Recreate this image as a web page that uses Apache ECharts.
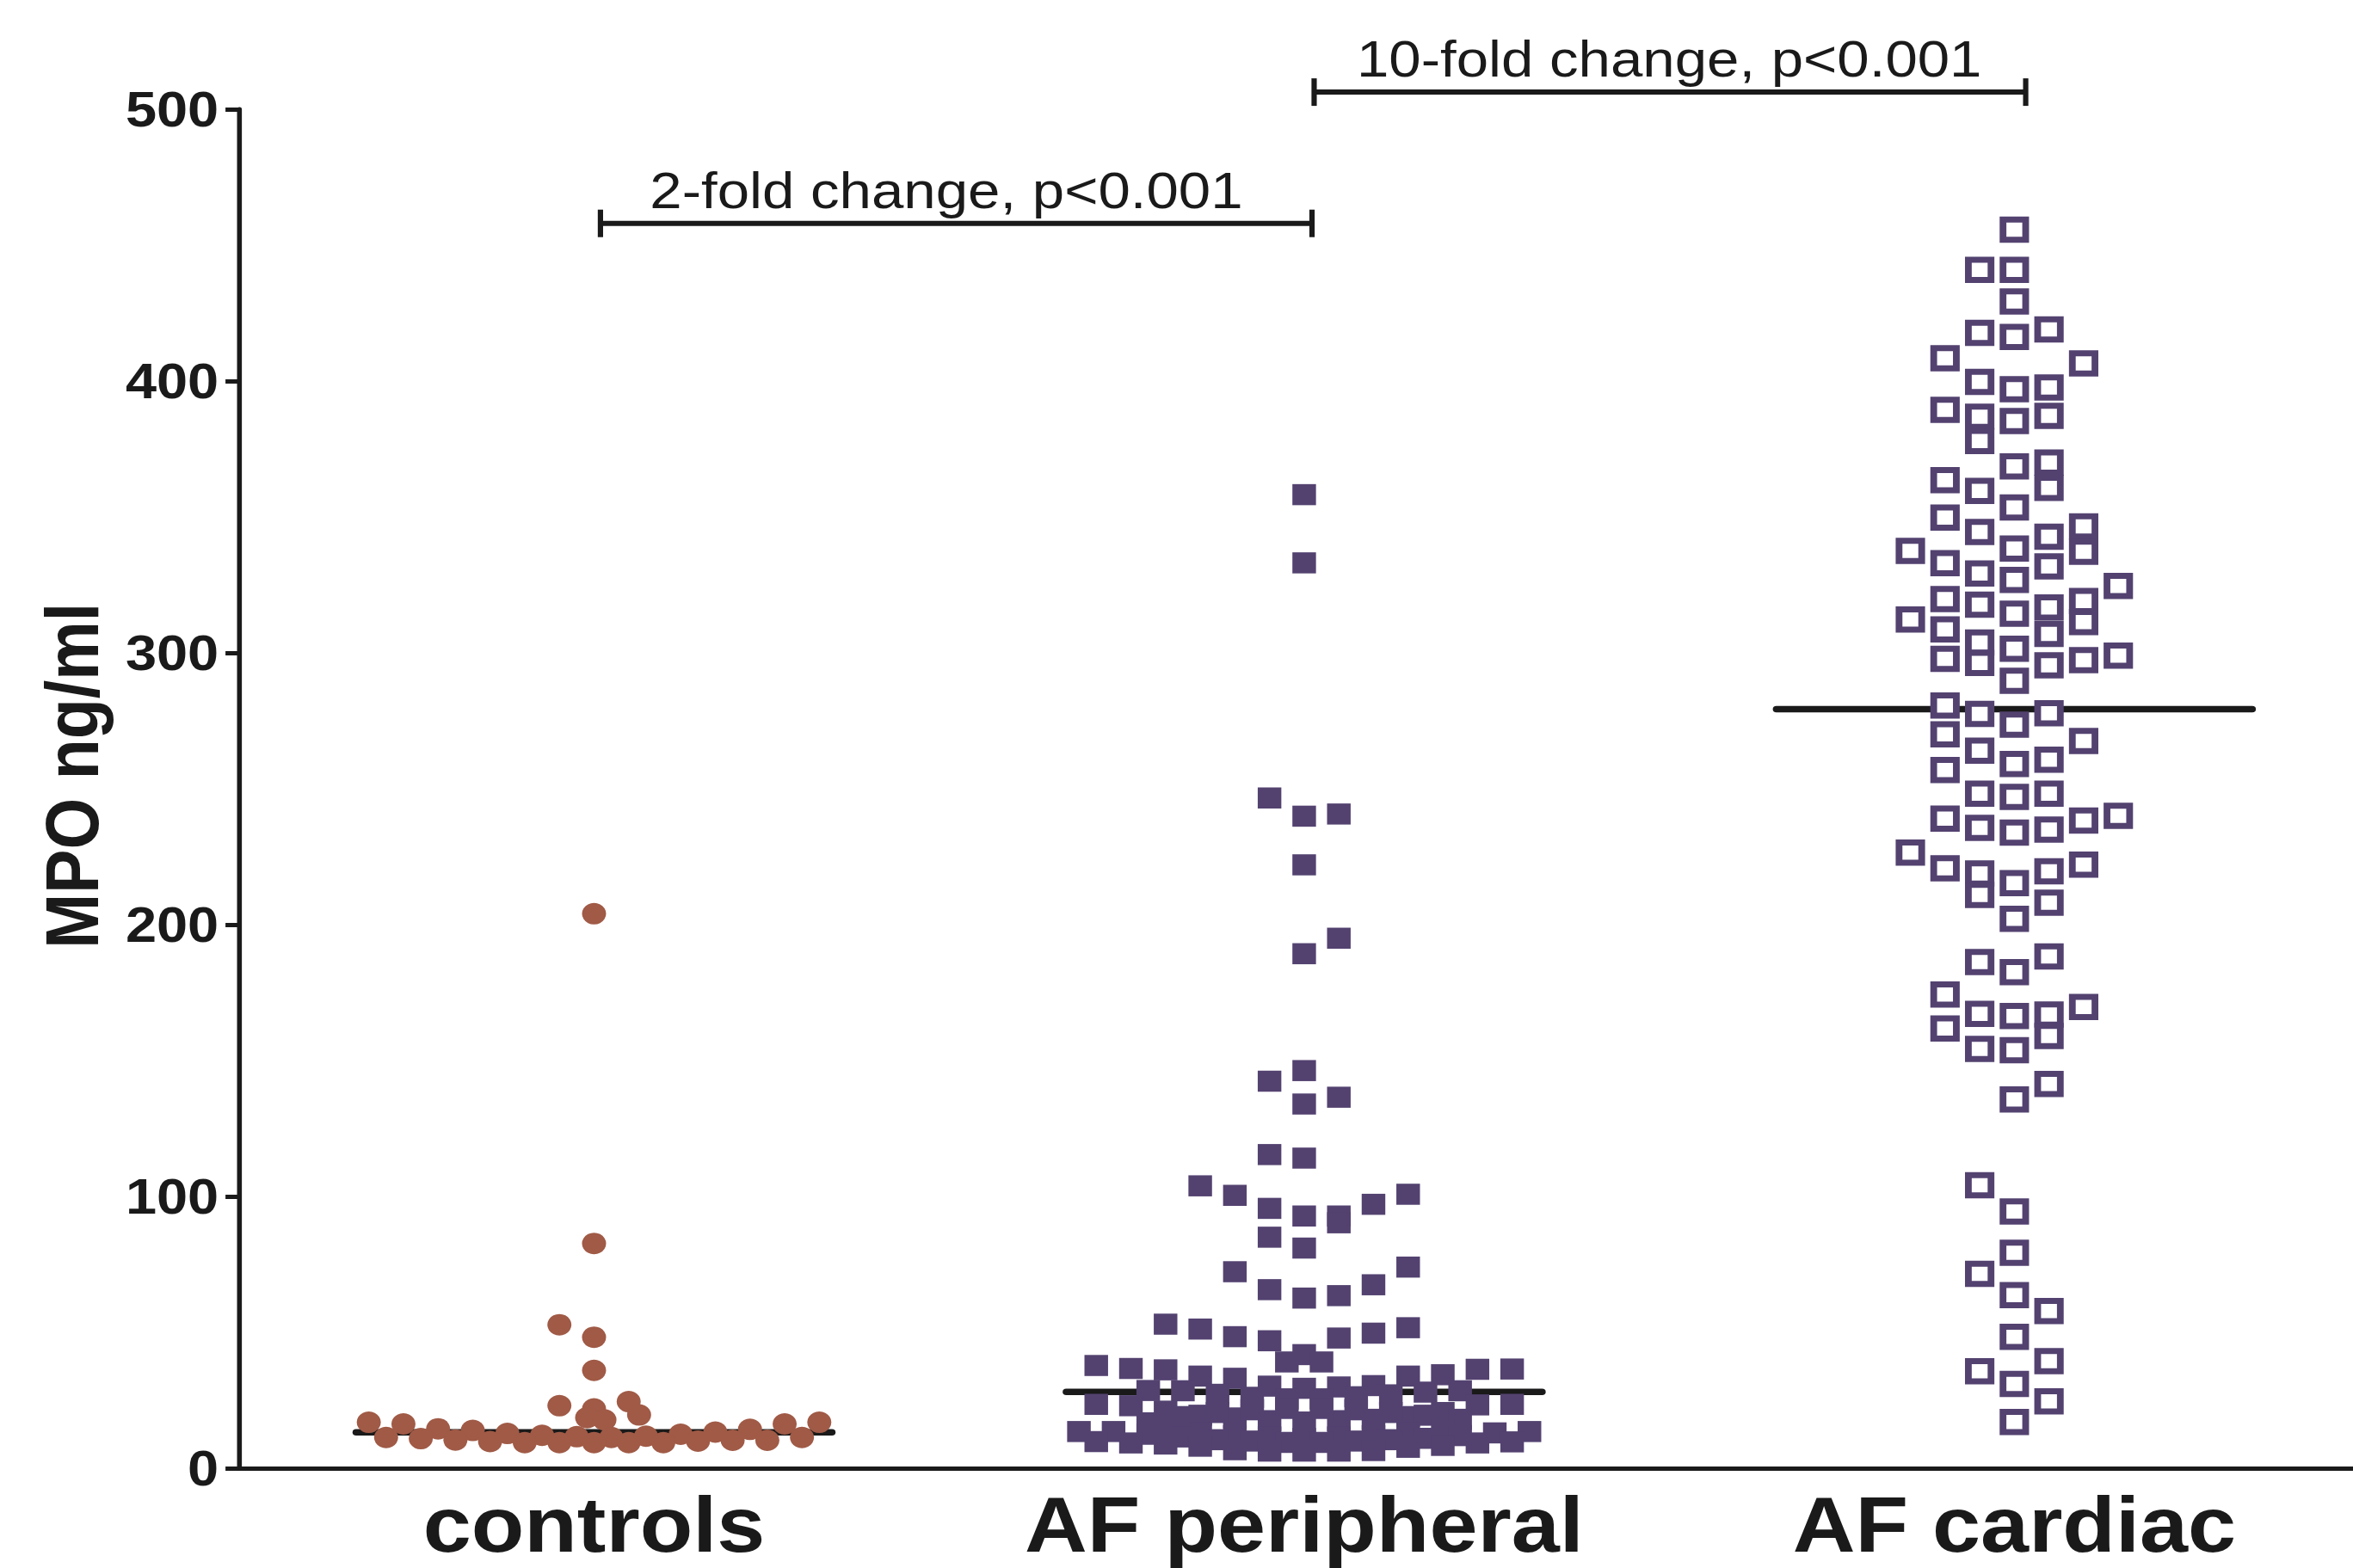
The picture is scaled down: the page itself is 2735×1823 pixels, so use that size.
<!DOCTYPE html>
<html>
<head>
<meta charset="utf-8">
<script src="https://cdn.jsdelivr.net/npm/echarts@6/dist/echarts.min.js"></script>
<style>
  body { margin: 0; overflow: hidden; background: #fff; }
  /* the original figure is stretched sideways, so the whole chart is too */
  #chart { width: 2442px; height: 1823px; transform: scaleX(1.12); transform-origin: 0 0; }
</style>
</head>
<body>
<div id="chart"></div>
<script>
// groups on the x axis
var categories = ['controls', 'AF peripheral', 'AF cardiac'];

// MPO values (ng/ml) and the swarm column of each point
var controlsMPO = [204.0, 82.7, 52.8, 48.2, 36.0, 23.0, 24.5, 21.8, 19.6, 18.6, 17.8,
  16.9, 16.3, 14.5, 13.9, 12.8, 12.1, 11.6, 11.3, 11.8, 12.5, 13.3, 14.3, 16.3, 16.9,
  11.3, 10.9, 10.4, 9.8, 9.4, 9.4, 9.4, 9.4, 9.4, 10.0, 10.3, 10.3, 11.3];
var controlsSlot = [0, 0, -2, 0, 0, -2, 2, 0, 2.6, -0.4, 0.6,
  -13, -11, -9, -7, -5, -3, -1, 1, 3, 5, 7, 9, 11, 13,
  -12, -10, -8, -6, -4, -2, 0, 2, 4, 6, 8, 10, 12];

var peripheralMPO = [358.2, 333.1, 246.6, 239.9, 240.7, 222.0, 195.0, 189.3, 146.3, 142.4,
  136.5, 134.0, 115.4, 114.1, 103.9, 100.4, 95.6, 92.8, 92.8, 90.3,
  97.1, 100.8, 85.0, 81.0, 72.3, 65.7, 62.6, 63.5, 67.5, 74.0,
  53.0, 51.2, 48.4, 46.9, 47.9, 49.7, 51.7, 41.8, 39.1, 39.1,
  37.8, 36.7, 36.2, 33.9, 33.1, 30.2, 29.4, 29.9, 30.4, 33.9, 34.4, 36.4, 36.5,
  28.6, 28.5, 27.2, 26.1, 25.5, 25.5, 26.3, 27.0, 28.0, 28.5,
  23.5, 23.0, 21.0, 19.5, 18.5, 17.5, 17.0, 17.5, 18.0, 19.0, 20.5, 23.3, 23.5,
  16.7, 19.0, 20.5, 21.5, 22.0, 22.0, 21.5, 20.5, 19.5, 18.0,
  14.0, 13.0, 12.0, 11.5, 11.0, 11.5, 12.0, 13.0, 14.0,
  13.5, 13.5, 12.5, 11.5, 10.5, 10.0, 9.5, 9.5, 10.0, 10.5, 11.0, 12.0, 13.0, 13.5,
  9.8, 9.3, 8.9, 8.1, 6.8, 6.3, 6.3, 6.3, 6.5, 7.7, 8.4, 9.3, 9.7];
var peripheralSlot = [0, 0, -2, 0, 2, 0, 2, 0, 0, -2,
  2, 0, -2, 0, -6, -4, -2, 0, 2, 2,
  4, 6, -2, 0, -4, -2, 0, 2, 4, 6,
  -8, -6, -4, -2, 2, 4, 6, 0, -1, 1,
  -12, -10, -8, -6, -4, -2, 0, 2, 4, 6, 8, 10, 12,
  -9, -7, -5, -3, -1, 1, 3, 5, 7, 9,
  -12, -10, -8, -6, -4, -2, 0, 2, 4, 6, 8, 10, 12,
  -9, -7, -5, -3, -1, 1, 3, 5, 7, 9,
  -8, -6, -4, -2, 0, 2, 4, 6, 8,
  -13, -11, -9, -7, -5, -3, -1, 1, 3, 5, 7, 9, 11, 13,
  -12, -10, -8, -6, -4, -2, 0, 2, 4, 6, 8, 10, 12];

var cardiacMPO = [455.7, 440.9, 440.9, 429.3, 417.7, 416.2, 419.0, 408.4, 406.5, 399.7,
  397.0, 397.6, 389.4, 386.9, 385.3, 387.2, 377.9, 368.6, 370.0, 360.7,
  363.5, 359.6, 353.5, 349.8, 344.5, 338.4, 342.7, 331.8, 346.5, 337.2,
  337.5, 333.0, 329.2, 326.8, 324.6, 319.8, 317.7, 314.4, 316.7, 307.0,
  319.1, 311.3, 312.3, 308.6, 297.8, 303.8, 296.3, 301.5, 289.7, 295.4,
  297.3, 299.0, 280.6, 277.5, 273.6, 277.8, 270.0, 264.0, 259.1, 260.7,
  267.6, 256.9, 248.2, 247.0, 248.2, 239.0, 235.6, 233.9, 235.0, 238.3,
  240.0, 226.5, 220.7, 218.8, 210.9, 215.3, 202.1, 219.6, 208.1, 222.1,
  186.2, 182.5, 188.3, 174.3, 161.8, 167.2, 154.3, 166.4, 153.8, 166.9,
  159.0, 169.7, 135.7, 141.4, 104.1, 94.5, 79.3, 71.5, 63.7, 57.8,
  48.3, 39.4, 35.7, 31.0, 24.6, 17.0];
var cardiacSlot = [0, -2, 0, 0, -2, 0, 2, -4, 4, -2,
  0, 2, -4, -2, 0, 2, -2, 0, 2, 2,
  -4, -2, 0, -4, -2, 0, 2, 2, 4, 4,
  -6, -4, -2, 0, 6, -4, -2, 0, 2, 2,
  4, 4, -6, -4, -4, -2, -2, 0, 0, 2,
  4, 6, -4, -2, 0, 2, -4, -2, 0, 2,
  4, -4, -2, 0, 2, -4, -2, 0, 2, 4,
  6, -6, -4, -2, -2, 0, 0, 2, 2, 4,
  -2, 0, 2, -4, -4, -2, -2, 0, 0, 2,
  2, 4, 0, 2, -2, 0, 0, -2, 0, 2,
  0, 2, -2, 0, 2, 0];

var medians = [13.2, 28.1, 279.3];

// significance brackets
var bracketFrom = [0.009, 1.014];
var bracketTo = [1.011, 2.016];
var bracketLevel = [458, 506.3];
var bracketTextAt = [0.496, 1.514];
var bracketText = ['2-fold change, p<0.001', '10-fold change, p<0.001'];

var SLOT = 0.0244;        // width of one swarm column, in category units
var MEDIAN_HALF = 0.335;  // half length of the median bar
var FONT = "'Liberation Sans', Arial, sans-serif";
var INK = '#1a1a1a';
var PURPLE = '#534270';

function swarm(group, values, slots) {
  return values.map(function (v, i) { return [group + slots[i] * SLOT, v]; });
}

var chart = echarts.init(document.getElementById('chart'), null, { renderer: 'svg' });

chart.setOption({
  animation: false,
  backgroundColor: '#fff',
  grid: { left: 248, top: 127, width: 2211, height: 1580, containLabel: false, outerBoundsMode: 'none' },
  xAxis: [{
    type: 'category',
    data: categories,
    axisLine: { lineStyle: { color: INK, width: 5 } },
    axisTick: { alignWithLabel: true, length: 16, lineStyle: { color: INK, width: 5 } },
    axisLabel: { interval: 0, margin: 26, lineHeight: 80, fontSize: 90, fontWeight: 'bold', fontFamily: FONT, color: INK },
    splitLine: { show: false }
  }, {
    type: 'value',
    min: -0.5,
    max: 2.5,
    show: false
  }],
  yAxis: {
    type: 'value',
    min: 0,
    max: 500,
    interval: 100,
    name: 'MPO ng/ml',
    nameLocation: 'middle',
    nameRotate: 90,
    nameGap: 135,
    nameTextStyle: { fontSize: 77, fontWeight: 'bold', fontFamily: FONT, color: INK, padding: [0, 0, 0, 30] },
    axisLine: { show: true, onZero: false, lineStyle: { color: INK, width: 5 } },
    axisTick: { show: true, length: 14, lineStyle: { color: INK, width: 5 } },
    axisLabel: { margin: 21, fontSize: 58, fontWeight: 'bold', fontFamily: FONT, color: INK },
    splitLine: { show: false }
  },
  series: [{
    name: 'controls',
    type: 'scatter',
    xAxisIndex: 1,
    symbol: 'circle',
    symbolSize: 25,
    itemStyle: { color: '#A05A46', opacity: 1 },
    data: swarm(0, controlsMPO, controlsSlot)
  }, {
    name: 'AF peripheral',
    type: 'scatter',
    xAxisIndex: 1,
    symbol: 'rect',
    symbolSize: 24.5,
    itemStyle: { color: PURPLE, opacity: 1 },
    data: swarm(1, peripheralMPO, peripheralSlot)
  }, {
    name: 'AF cardiac',
    type: 'scatter',
    xAxisIndex: 1,
    symbol: 'rect',
    symbolSize: 23.5,
    itemStyle: { color: '#fff', borderColor: PURPLE, borderWidth: 7, opacity: 1 },
    data: swarm(2, cardiacMPO, cardiacSlot)
  }, {
    // median bars
    type: 'custom',
    xAxisIndex: 1,
    clip: false,
    data: medians.map(function (m, i) { return [i, m]; }),
    encode: { x: 0, y: 1 },
    renderItem: function (params, api) {
      var a = api.coord([api.value(0) - MEDIAN_HALF, api.value(1)]);
      var b = api.coord([api.value(0) + MEDIAN_HALF, api.value(1)]);
      return {
        type: 'line',
        shape: { x1: a[0], y1: a[1], x2: b[0], y2: b[1] },
        style: { stroke: INK, lineWidth: 7.5, lineCap: 'round' }
      };
    }
  }, {
    // brackets with the fold change text
    type: 'custom',
    xAxisIndex: 1,
    clip: false,
    data: bracketLevel.map(function (lv, i) { return [bracketFrom[i], bracketTo[i], lv, bracketTextAt[i]]; }),
    encode: { x: [0, 1], y: 2 },
    renderItem: function (params, api) {
      var a = api.coord([api.value(0), api.value(2)]);
      var b = api.coord([api.value(1), api.value(2)]);
      var t = api.coord([api.value(3), api.value(2)]);
      var line = { stroke: INK, lineWidth: 6 };
      var cap = { stroke: INK, lineWidth: 5.5 };
      return {
        type: 'group',
        children: [
          { type: 'line', shape: { x1: a[0], y1: a[1], x2: b[0], y2: b[1] }, style: line },
          { type: 'line', shape: { x1: a[0], y1: a[1] - 16, x2: a[0], y2: a[1] + 16 }, style: cap },
          { type: 'line', shape: { x1: b[0], y1: b[1] - 16, x2: b[0], y2: b[1] + 16 }, style: cap },
          {
            type: 'text',
            x: t[0],
            y: t[1] - 39,
            style: {
              text: bracketText[params.dataIndex],
              fontSize: 60,
              fontFamily: FONT,
              fill: INK,
              align: 'center',
              verticalAlign: 'middle'
            }
          }
        ]
      };
    }
  }]
});
</script>
</body>
</html>
